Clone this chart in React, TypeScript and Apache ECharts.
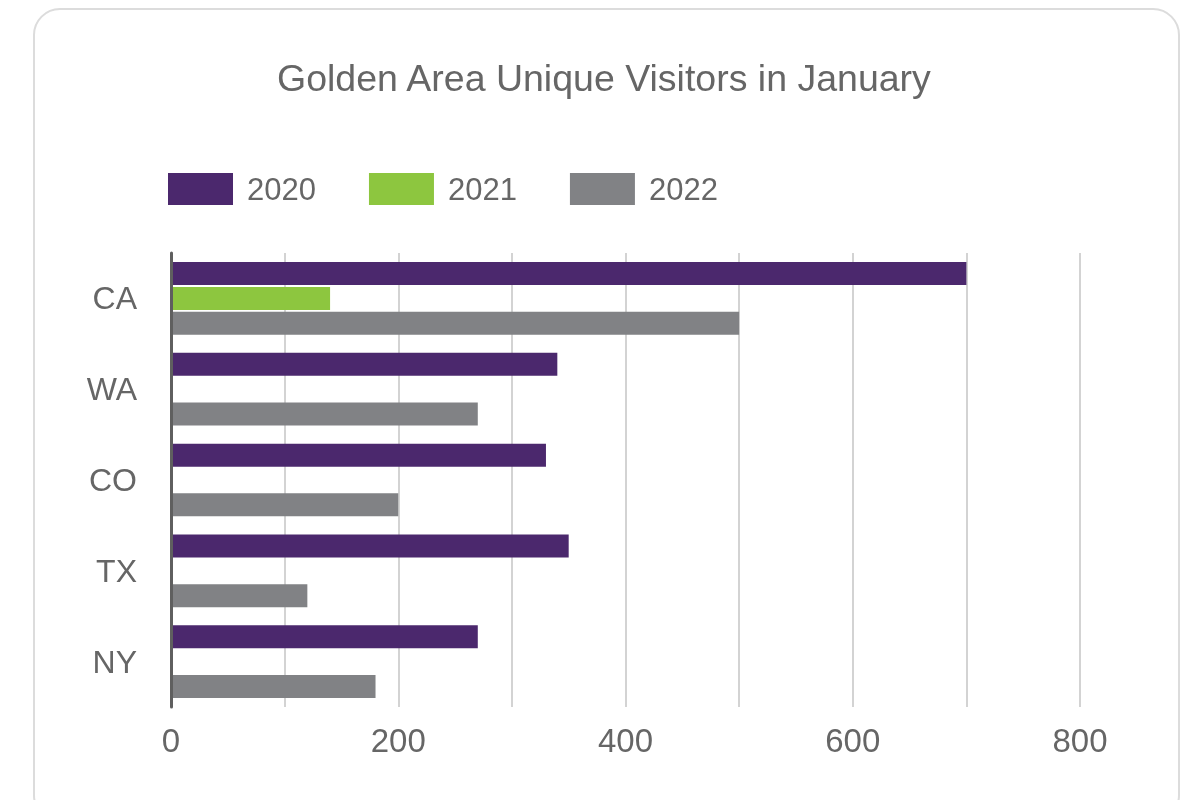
import React, { useEffect, useRef } from "react";
import * as echarts from "echarts";

const categories = ["CA", "WA", "CO", "TX", "NY"];
const seriesNames = ["2020", "2021", "2022"];
const values2020 = [700, 340, 330, 350, 270];
const values2021 = [140, null, null, null, null];
const values2022 = [500, 270, 200, 120, 180];
const colors = ["#4B286D", "#8DC63F", "#818285"];
const xTicks = [0, 200, 400, 600, 800];

const FONT = "Liberation Sans, Arial, Helvetica, sans-serif";

export default function App() {
  const ref = useRef<HTMLDivElement>(null);
  useEffect(() => {
    if (!ref.current) return;
    const chart = echarts.init(ref.current, undefined, { renderer: "svg" });
    const data = [values2020, values2021, values2022];
    chart.setOption({
      animation: false,
      textStyle: { fontFamily: FONT },
      graphic: [
        {
          type: "rect",
          shape: { x: 34, y: 9, width: 1145, height: 812, r: 26 },
          style: { fill: "#fff", stroke: "#dcdcdc", lineWidth: 2 },
          z: -10,
          silent: true,
        },
      ],
      title: {
        text: "Golden Area Unique Visitors in January",
        left: 272,
        top: 54,
        textStyle: { fontSize: 37.5, fontWeight: "normal", color: "#666666", fontFamily: FONT },
      },
      legend: {
        left: 163,
        top: 168,
        itemWidth: 65,
        itemHeight: 32,
        itemGap: 53,
        icon: "rect",
        data: seriesNames,
        textStyle: { fontSize: 31, color: "#666666", fontFamily: FONT, padding: [0, 0, 0, 9] },
      },
      grid: { left: 171, right: 119, top: 253, bottom: 93, containLabel: false },
      xAxis: {
        type: "value",
        min: 0,
        max: 800,
        interval: 100,
        axisLine: { show: false },
        axisTick: { show: false },
        axisLabel: {
          fontSize: 33,
          color: "#666666",
          fontFamily: FONT,
          margin: 17,
          formatter: (v: number) => (xTicks.includes(v) ? String(v) : ""),
        },
        splitLine: { show: true, lineStyle: { color: "#d3d3d3", width: 2 } },
      },
      yAxis: {
        type: "category",
        data: categories,
        inverse: true,
        z: 5,
        axisLine: { show: true, lineStyle: { color: "#5f5f5f", width: 3 } },
        axisTick: { show: false },
        axisLabel: { fontSize: 32, color: "#666666", fontFamily: FONT, margin: 34 },
        splitLine: { show: false },
      },
      series: seriesNames.map((name, i) => ({
        name,
        type: "bar",
        data: data[i],
        barWidth: 23,
        barGap: "8%",
        itemStyle: { color: colors[i] },
        z: 3,
      })),
    });
    return () => chart.dispose();
  }, []);
  return (
    <div
      ref={ref}
      style={{ position: "fixed", left: 0, top: 0, width: 1199, height: 800 }}
    />
  );
}
